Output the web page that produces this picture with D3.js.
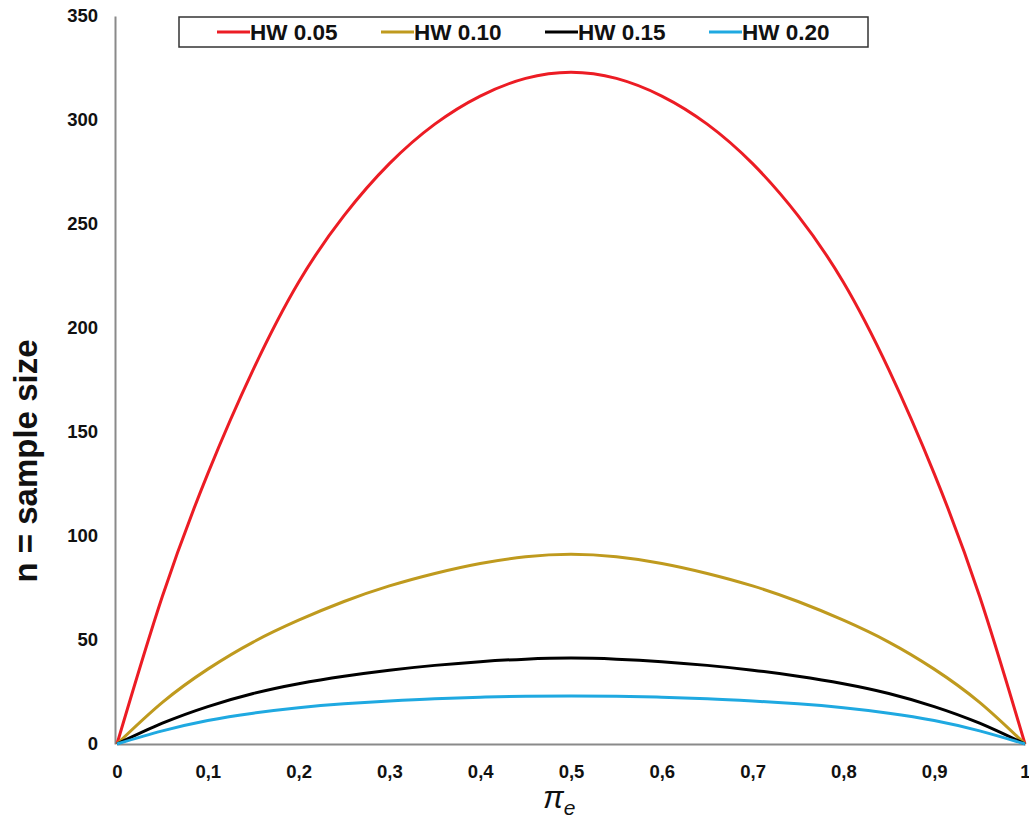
<!DOCTYPE html>
<html>
<head>
<meta charset="utf-8">
<script src="https://cdn.jsdelivr.net/npm/d3@7"></script>
<style>
  body { margin: 0; background: #fff; }
  text { font-family: "Liberation Sans", Arial, sans-serif; }
</style>
</head>
<body>
<div id="chart"></div>
<script>
// proportion pi_e
var pis = [0, 0.05, 0.1, 0.15, 0.2, 0.25, 0.3, 0.35, 0.4, 0.45, 0.5,
           0.55, 0.6, 0.65, 0.7, 0.75, 0.8, 0.85, 0.9, 0.95, 1];
// sample size for each half width
var hw05 = [0, 71, 130, 180, 222, 254, 279, 298, 311.5, 320, 323,
            320, 311.5, 298, 279, 254, 222, 180, 130, 71, 0];
var hw10 = [0, 20, 36, 49, 59.5, 68.5, 76, 82, 86.8, 90, 91.2,
            90, 86.8, 82, 76, 68.5, 59.5, 49, 36, 20, 0];
var hw15 = [0, 10, 18, 24.3, 29, 32.6, 35.5, 37.8, 39.6, 40.8, 41.3,
            40.8, 39.6, 37.8, 35.5, 32.6, 29, 24.3, 18, 10, 0];
var hw20 = [0, 6.3, 11.3, 14.8, 17.4, 19.3, 20.7, 21.8, 22.5, 23, 23.1,
            23, 22.5, 21.8, 20.7, 19.3, 17.4, 14.8, 11.3, 6.3, 0];

var seriesNames = ['HW 0.05', 'HW 0.10', 'HW 0.15', 'HW 0.20'];
var seriesColors = ['#ec1c24', '#bf9a1e', '#000000', '#1fa9e1'];
var yTicks = [0, 50, 100, 150, 200, 250, 300, 350];
var xTicks = [0, 0.1, 0.2, 0.3, 0.4, 0.5, 0.6, 0.7, 0.8, 0.9, 1];

var W = 1029, H = 831;

var svg = d3.select('#chart')
    .append('svg')
    .attr('width', W)
    .attr('height', H);

var x = d3.scaleLinear().domain([0, 1]).range([117, 1025]);
var y = d3.scaleLinear().domain([0, 350]).range([744, 16]);

// x axis
var xAxis = d3.axisBottom(x)
    .tickValues(xTicks)
    .tickSize(0)
    .tickPadding(21)
    .tickFormat(d => d === 0 || d === 1 ? String(d) : d.toFixed(1).replace('.', ','));

var gx = svg.append('g')
    .attr('transform', `translate(0,${y(0)})`)
    .call(xAxis);

// y axis
var yAxis = d3.axisLeft(y)
    .tickValues(yTicks)
    .tickSize(0)
    .tickPadding(17);

var gy = svg.append('g')
    .attr('transform', 'translate(115,0)')
    .call(yAxis);

[gx, gy].forEach(g => {
    g.select('.domain').attr('stroke', '#8a8a8a').attr('stroke-width', 2);
    g.selectAll('text')
        .attr('font-family', '"Liberation Sans", Arial, sans-serif')
        .attr('font-weight', 'bold')
        .attr('font-size', 18.5)
        .attr('fill', '#111');
});

// curves
var series = [hw05, hw10, hw15, hw20];
var line = d3.line()
    .x((d, i) => x(pis[i]))
    .y(d => y(d))
    .curve(d3.curveNatural);

svg.append('g')
    .selectAll('path')
    .data(series)
    .join('path')
    .attr('d', d => line(d))
    .attr('fill', 'none')
    .attr('stroke', (d, i) => seriesColors[i])
    .attr('stroke-width', 3);

// axis titles
svg.append('text')
    .attr('transform', 'translate(37,461) rotate(-90)')
    .attr('text-anchor', 'middle')
    .attr('font-weight', 'bold')
    .attr('font-size', 33)
    .attr('fill', '#111')
    .text('n = sample size');

var xt = svg.append('text')
    .attr('x', 543)
    .attr('y', 808)
    .attr('font-family', '"DejaVu Serif", serif')
    .attr('font-style', 'italic')
    .attr('font-size', 31)
    .attr('fill', '#111');
xt.append('tspan').text('π');
xt.append('tspan')
    .attr('dy', 7)
    .attr('font-size', 21)
    .text('e');

// legend
var legend = svg.append('g');
legend.append('rect')
    .attr('x', 179)
    .attr('y', 17)
    .attr('width', 689)
    .attr('height', 30)
    .attr('fill', '#fff')
    .attr('stroke', '#333')
    .attr('stroke-width', 1.5);

var item = legend.selectAll('g.item')
    .data(seriesNames)
    .join('g')
    .attr('class', 'item')
    .attr('transform', (d, i) => `translate(${217 + i * 164},32)`);

item.append('line')
    .attr('x1', 0)
    .attr('x2', 33)
    .attr('stroke', (d, i) => seriesColors[i])
    .attr('stroke-width', 3);

item.append('text')
    .attr('x', 33)
    .attr('dy', '0.36em')
    .attr('font-weight', 'bold')
    .attr('font-size', 22.5)
    .attr('fill', '#111')
    .text(d => d);
</script>
</body>
</html>
